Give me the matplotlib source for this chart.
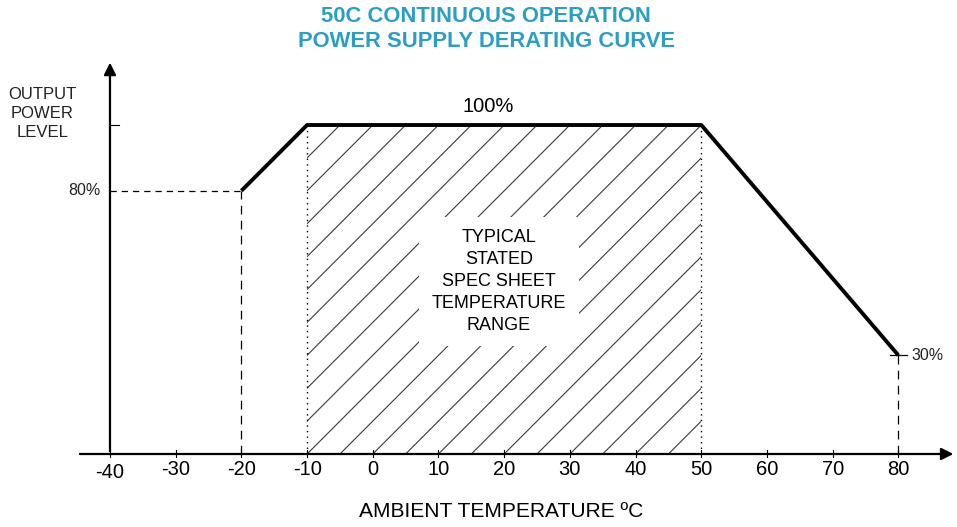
"""Power supply derating curve."""
import matplotlib
matplotlib.use('Agg')
import matplotlib.pyplot as plt
from matplotlib.patches import Rectangle
import numpy as np

plt.rcParams['font.family'] = ['Liberation Sans', 'DejaVu Sans']

# derating curve (ambient temp degC, output power %)
curve_temp = [-20, -10, 50, 80]
curve_power = [80, 100, 100, 30]
spec_range = [-10, 50]
x_ticks = [-40, -30, -20, -10, 0, 10, 20, 30, 40, 50, 60, 70, 80]
hatch_starts = np.arange(-60, 50, 5)

TITLE = '#2a9fc4'

fig = plt.figure(figsize=(9.57, 5.27), dpi=100)
ax = fig.add_axes([0, 0, 1, 1])
ax.set_xlim(-56.74, 88.92)
ax.set_ylim(-22.19, 138.0)
ax.axis('off')

# hatched spec range
clip = Rectangle((spec_range[0], 0), spec_range[1] - spec_range[0], 100,
                 transform=ax.transData, facecolor='none', edgecolor='none')
ax.add_patch(clip)
for x0 in hatch_starts:
    ln, = ax.plot([x0, x0 + 60], [0, 120], color='#3a3a3a', lw=0.8)
    ln.set_clip_path(clip)
for xs in spec_range:
    ax.plot([xs, xs], [0, 100], color='black', lw=1, ls=(0, (1, 3)))

# dashed guides
ax.plot([-40, curve_temp[0]], [curve_power[0]] * 2, color='black', lw=0.9, ls=(0, (5, 4)))
ax.plot([curve_temp[0]] * 2, [0, curve_power[0]], color='black', lw=0.9, ls=(0, (7, 5)))
ax.plot([curve_temp[-1]] * 2, [0, curve_power[-1]], color='black', lw=0.9, ls=(0, (7, 5)))
ax.plot([curve_temp[-1] - 1.3, curve_temp[-1] + 1.3], [curve_power[-1]] * 2, color='black', lw=0.9)

# axes with arrows
ax.annotate('', xy=(88.8, 0), xytext=(-45, 0), annotation_clip=False,
            arrowprops=dict(arrowstyle='-|>', color='black', lw=1.6, mutation_scale=18))
ax.annotate('', xy=(-40, 119.8), xytext=(-40, 0), annotation_clip=False,
            arrowprops=dict(arrowstyle='-|>', color='black', lw=1.6, mutation_scale=18))
ax.plot([-40, -38.6], [100, 100], color='black', lw=0.8)
for t in x_ticks:
    ax.plot([t, t], [-0.9, 1.2], color='black', lw=0.8)
    ax.text(t, -4.6 if t != -40 else -5.6, f'{t}', ha='center', va='center', fontsize=14.5)

# main curve
ax.plot(curve_temp, curve_power, color='black', lw=2.8, solid_capstyle='butt')

ax.text(17.5, 105.6, '100%', ha='center', va='center', fontsize=14.5)
ax.text(-41.5, curve_power[0], '80%', ha='right', va='center', fontsize=11.5, color='#222222')
ax.text(82, curve_power[-1], '30%', ha='left', va='center', fontsize=11.5, color='#222222')
ax.text(-50.3, 103.5, 'OUTPUT\nPOWER\nLEVEL', ha='center', va='center', fontsize=12,
        color='#222222', linespacing=1.3)
ax.text(19.2, 52.4, 'TYPICAL\nSTATED\nSPEC SHEET\nTEMPERATURE\nRANGE', ha='center', va='center',
        fontsize=13, linespacing=1.38,
        bbox=dict(facecolor='white', edgecolor='none', pad=9))
ax.text(19.6, -17.5, 'AMBIENT TEMPERATURE ºC', ha='center', va='center', fontsize=15.1)

fig.text(0.508, 0.968, '50C CONTINUOUS OPERATION', ha='center', va='center',
         fontsize=15.8, fontweight='bold', color=TITLE)
fig.text(0.508, 0.921, 'POWER SUPPLY DERATING CURVE', ha='center', va='center',
         fontsize=15.8, fontweight='bold', color=TITLE)

fig.savefig('out.png', dpi=100, facecolor='white')
plt.close(fig)
